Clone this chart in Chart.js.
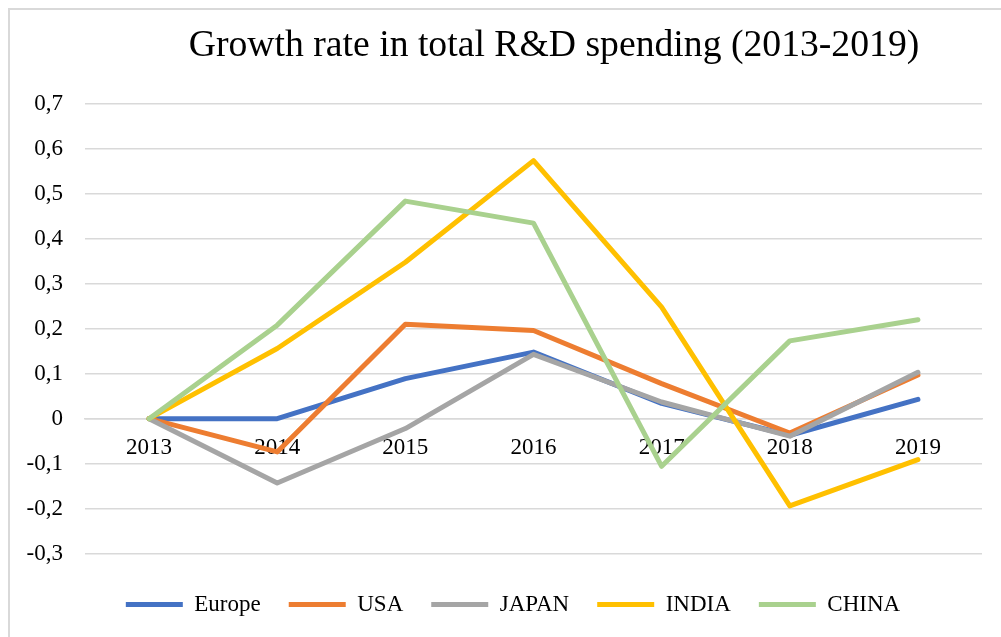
<!DOCTYPE html>
<html>
<head>
<meta charset="utf-8">
<title>Growth rate in total R&amp;D spending</title>
<script src="https://cdn.jsdelivr.net/npm/chart.js@4/dist/chart.umd.min.js"></script>
<style>
  body { margin: 0; background: #fff; }
  #wrap { position: relative; width: 1001px; height: 637px; overflow: hidden; }
  #frame { position: absolute; left: 8px; top: 8px; width: 1100px; height: 700px;
           border-left: 2px solid #d9d9d9; border-top: 2px solid #d9d9d9; pointer-events: none; }
</style>
</head>
<body>
<div id="wrap">
  <canvas id="rdChart" width="1001" height="637"></canvas>
  <div id="frame"></div>
</div>
<script>
const years = ['2013', '2014', '2015', '2016', '2017', '2018', '2019'];
const europe = [0, 0, 0.089, 0.148, 0.034, -0.037, 0.043];
const usa    = [0, -0.074, 0.21, 0.196, 0.078, -0.032, 0.097];
const japan  = [0, -0.143, -0.022, 0.143, 0.037, -0.039, 0.103];
const india  = [0, 0.156, 0.348, 0.574, 0.248, -0.194, -0.091];
const china  = [0, 0.208, 0.484, 0.435, -0.106, 0.173, 0.22];

const serif = "'Liberation Serif', 'Times New Roman', serif";

function series(label, data, color, order) {
    return {
        label: label,
        data: data,
        borderColor: color,
        backgroundColor: color,
        borderWidth: 5,
        borderCapStyle: 'round',
        borderJoinStyle: 'round',
        pointRadius: 0,
        tension: 0,
        order: order
    };
}

// title sits a bit right of centre in the original, so draw it by hand
const titlePlugin = {
    id: 'titleText',
    afterDraw(chart) {
        const c = chart.ctx;
        c.save();
        c.font = '37.7px ' + serif;
        c.fillStyle = '#000';
        c.textAlign = 'center';
        c.textBaseline = 'alphabetic';
        c.fillText('Growth rate in total R&D spending (2013-2019)', 554, 56);
        c.restore();
    }
};

const ctx = document.getElementById('rdChart').getContext('2d');
const rdChart = new Chart(ctx, {
    type: 'line',
    data: {
        labels: years,
        datasets: [
            series('Europe', europe, '#4472C4', 5),
            series('USA', usa, '#ED7D31', 4),
            series('JAPAN', japan, '#A5A5A5', 3),
            series('INDIA', india, '#FFC000', 2),
            series('CHINA', china, '#A9D18E', 1)
        ]
    },
    plugins: [titlePlugin],
    options: {
        responsive: false,
        animation: false,
        events: [],
        layout: {
            padding: { top: 104, left: 44, right: 19, bottom: 11 }
        },
        scales: {
            x: {
                position: { y: 0 },
                offset: true,
                grid: { display: false, drawTicks: false },
                border: { color: '#d9d9d9', width: 1.5 },
                ticks: {
                    padding: 16,
                    color: '#000',
                    font: { family: serif, size: 23 }
                }
            },
            y: {
                min: -0.3,
                max: 0.7,
                afterFit: function(scale) {
                    scale.width = 41;
                    // labels hang left of the narrow axis box, don't clip them
                    scale._computeLabelArea = function() { return undefined; };
                },
                grid: { color: '#d9d9d9', lineWidth: 1.5, drawTicks: false },
                border: { display: false },
                ticks: {
                    stepSize: 0.1,
                    padding: 22,
                    color: '#000',
                    font: { family: serif, size: 23 },
                    callback: function(v) {
                        return String(Math.round(v * 10) / 10).replace('.', ',');
                    }
                }
            }
        },
        plugins: {
            legend: {
                position: 'bottom',
                title: {
                    display: true,
                    text: '',
                    padding: 0,
                    font: { size: 11.5, lineHeight: 1 }
                },
                labels: {
                    usePointStyle: true,
                    pointStyle: 'line',
                    pointStyleWidth: 57,
                    boxHeight: 23,
                    padding: 28,
                    color: '#000',
                    font: { family: serif, size: 23 },
                    sort: function(a, b) { return a.datasetIndex - b.datasetIndex; }
                }
            },
            title: { display: false },
            tooltip: { enabled: false }
        }
    }
});
</script>
</body>
</html>
